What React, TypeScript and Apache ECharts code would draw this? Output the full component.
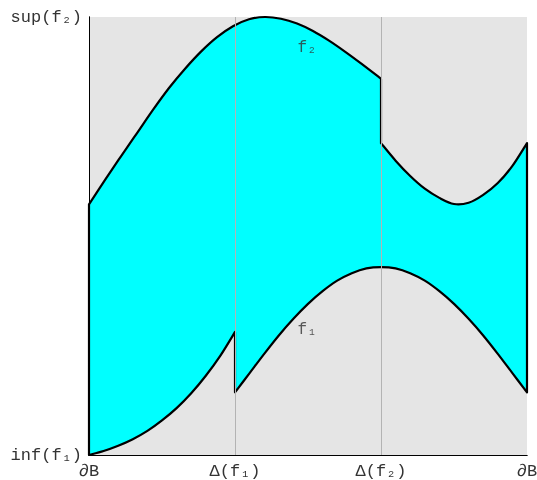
import React, { useEffect, useRef } from "react";
import * as echarts from "echarts";

// Tick labels
const X_TICKS = ["∂B", "Δ(f₁)", "Δ(f₂)", "∂B"];
const Y_TICKS = ["inf(f₁)", "sup(f₂)"];

// Upper function f2: left branch on [0, 2], right branch on [2, 3]
const F2_LEFT: [number, number][] = [
  [0, 0.572], [0.11, 0.628], [0.219, 0.682], [0.329, 0.735], [0.438, 0.788],
  [0.548, 0.838], [0.658, 0.882], [0.767, 0.921], [0.877, 0.954], [0.986, 0.979],
  [1.096, 0.995], [1.205, 1.0], [1.315, 0.996], [1.425, 0.985], [1.534, 0.968],
  [1.644, 0.946], [1.753, 0.921], [1.863, 0.894], [2.0, 0.859],
];
const F2_RIGHT: [number, number][] = [
  [2.0, 0.712], [2.1, 0.672], [2.2, 0.637], [2.3, 0.608], [2.4, 0.587],
  [2.5, 0.573], [2.6, 0.576], [2.7, 0.594], [2.8, 0.621], [2.9, 0.66],
  [3.0, 0.712],
];

// Lower function f1: left branch on [0, 1], right branch on [1, 3]
const F1_LEFT: [number, number][] = [
  [0, 0], [0.1, 0.009], [0.2, 0.021], [0.3, 0.036], [0.4, 0.055], [0.5, 0.079],
  [0.6, 0.107], [0.7, 0.141], [0.8, 0.181], [0.9, 0.227], [1.0, 0.281],
];
const F1_RIGHT: [number, number][] = [
  [1.0, 0.143], [1.1, 0.187], [1.2, 0.231], [1.3, 0.273], [1.4, 0.311],
  [1.5, 0.345], [1.6, 0.374], [1.7, 0.398], [1.8, 0.415], [1.9, 0.426],
  [2.0, 0.429], [2.1, 0.426], [2.2, 0.415], [2.3, 0.398], [2.4, 0.374],
  [2.5, 0.345], [2.6, 0.311], [2.7, 0.273], [2.8, 0.231], [2.9, 0.187],
  [3.0, 0.143],
];

// Curve name labels
const CURVE_LABELS: { name: string; at: [number, number] }[] = [
  { name: "f₂", at: [1.493, 0.929] },
  { name: "f₁", at: [1.493, 0.285] },
];

const FONT = "'Liberation Mono', 'DejaVu Sans Mono', monospace";
const TEXT = "#333";
const PANEL = "#e5e5e5";
const FILL = "#00ffff";

type Pt = [number, number];

// Catmull-Rom spline through pixel points, as SVG path commands.
function spline(pts: Pt[], start: "M" | "L"): string {
  let d = `${start}${pts[0][0]},${pts[0][1]}`;
  for (let i = 0; i < pts.length - 1; i++) {
    const p0 = pts[i - 1] ?? pts[i];
    const p1 = pts[i];
    const p2 = pts[i + 1];
    const p3 = pts[i + 2] ?? pts[i + 1];
    const c1x = p1[0] + (p2[0] - p0[0]) / 6;
    const c1y = p1[1] + (p2[1] - p0[1]) / 6;
    const c2x = p2[0] - (p3[0] - p1[0]) / 6;
    const c2y = p2[1] - (p3[1] - p1[1]) / 6;
    d += ` C${c1x},${c1y} ${c2x},${c2y} ${p2[0]},${p2[1]}`;
  }
  return d;
}

// Closed outline of the band: f1 left to right, up the right edge,
// f2 right to left, down the left edge.
function bandPath(api: any): string {
  const px = (a: Pt[]) => a.map((p) => api.coord(p) as Pt);
  const f1l = px(F1_LEFT);
  const f1r = px(F1_RIGHT);
  const f2r = px(F2_RIGHT).reverse();
  const f2l = px(F2_LEFT).reverse();
  return (
    spline(f1l, "M") +
    " " + spline(f1r, "L") +
    " " + spline(f2r, "L") +
    " " + spline(f2l, "L") +
    " Z"
  );
}

export default function App() {
  const ref = useRef<HTMLDivElement>(null);

  useEffect(() => {
    if (!ref.current) return;
    const chart = echarts.init(ref.current, undefined, { renderer: "svg" });

    const axisLine = { show: true, lineStyle: { color: "#000", width: 1 } };

    chart.setOption({
      animation: false,
      grid: {
        left: 89,
        right: 10,
        top: 17,
        bottom: 25,
        show: true,
        backgroundColor: PANEL,
        borderWidth: 0,
        containLabel: false,
        outerBoundsMode: "none",
      },
      xAxis: [
        {
          type: "value",
          min: 0,
          max: 3,
          interval: 1,
          z: 5,
          axisLine,
          axisTick: { show: false },
          splitLine: { show: false },
          axisLabel: {
            formatter: (v: number) => X_TICKS[Math.round(v)] ?? "",
            color: TEXT,
            fontFamily: FONT,
            fontSize: 17,
            margin: 8,
            showMinLabel: true,
            showMaxLabel: true,
          },
        },
        {
          type: "value",
          position: "top",
          min: 0,
          max: 3,
          z: 5,
          axisLine,
          axisTick: { show: false },
          axisLabel: { show: false },
          splitLine: { show: false },
        },
      ],
      yAxis: [
        {
          type: "value",
          min: 0,
          max: 1,
          interval: 1,
          z: 5,
          axisLine,
          axisTick: { show: false },
          splitLine: { show: false },
          axisLabel: {
            formatter: (v: number) => Y_TICKS[Math.round(v)] ?? "",
            color: TEXT,
            fontFamily: FONT,
            fontSize: 17,
            margin: 7,
            showMinLabel: true,
            showMaxLabel: true,
          },
        },
        {
          type: "value",
          position: "right",
          min: 0,
          max: 1,
          z: 5,
          axisLine,
          axisTick: { show: false },
          axisLabel: { show: false },
          splitLine: { show: false },
        },
      ],
      series: [
        // cyan band between f1 and f2
        {
          type: "custom",
          data: [[0, 0]],
          silent: true,
          z: 2,
          renderItem: (_params: any, api: any) => ({
            type: "path",
            shape: { pathData: bandPath(api) },
            style: { fill: FILL, stroke: "none" },
          }),
        },
        // curve names and vertical guides at Δ(f1), Δ(f2)
        {
          type: "scatter",
          data: CURVE_LABELS.map((l) => ({ name: l.name, value: l.at })),
          symbolSize: 1,
          itemStyle: { color: "rgba(0,0,0,0)" },
          silent: true,
          z: 3,
          label: {
            show: true,
            position: "inside",
            formatter: (p: any) => p.name,
            color: TEXT,
            fontFamily: FONT,
            fontSize: 16,
          },
          markLine: {
            silent: true,
            symbol: "none",
            label: { show: false },
            lineStyle: { color: "#b3b3b3", width: 1, type: "solid" },
            data: [{ xAxis: 1 }, { xAxis: 2 }],
          },
        },
        // black outline of the band
        {
          type: "custom",
          data: [[0, 0]],
          silent: true,
          z: 4,
          renderItem: (_params: any, api: any) => ({
            type: "path",
            shape: { pathData: bandPath(api) },
            style: {
              fill: "none",
              stroke: "#000",
              lineWidth: 2.2,
              lineJoin: "round",
              lineCap: "round",
            },
          }),
        },
      ],
    });

    return () => chart.dispose();
  }, []);

  return (
    <div
      ref={ref}
      style={{ position: "fixed", left: 0, top: 0, width: 537, height: 480 }}
    />
  );
}
